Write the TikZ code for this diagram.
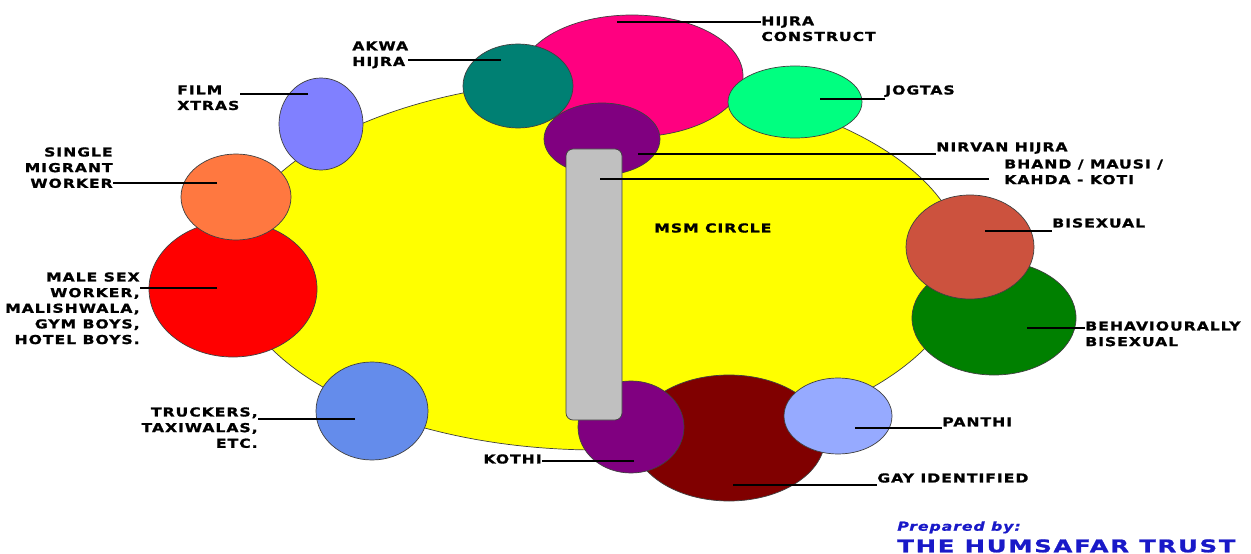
\documentclass[tikz,border=0pt]{standalone}
\usepackage{fontspec}
\newfontfamily\lblfont[FakeStretch=1.27,LetterSpace=8,FakeBold=1.2]{DejaVu Sans}
\newfontfamily\trustfont[FakeStretch=1.4,LetterSpace=10,FakeBold=1.2]{DejaVu Sans}
\definecolor{msmyellow}{RGB}{255,255,0}
\definecolor{hijrapink}{RGB}{255,0,128}
\definecolor{akwateal}{RGB}{0,128,115}
\definecolor{jogtagreen}{RGB}{0,255,128}
\definecolor{nirvanpurple}{RGB}{128,0,128}
\definecolor{rodgray}{RGB}{192,192,192}
\definecolor{filmblue}{RGB}{128,128,255}
\definecolor{migrantorange}{RGB}{255,120,64}
\definecolor{sexred}{RGB}{255,0,0}
\definecolor{truckblue}{RGB}{100,140,235}
\definecolor{gaymaroon}{RGB}{128,0,0}
\definecolor{panthiblue}{RGB}{150,170,255}
\definecolor{bisexred}{RGB}{204,82,62}
\definecolor{behavgreen}{RGB}{0,128,0}
\definecolor{trustblue}{RGB}{25,25,200}

\begin{document}
\begin{tikzpicture}[x=0.02cm,y=-0.02cm,
  blob/.style={draw=black!75,line width=0.4pt},
  lbl/.style={inner sep=0pt,font=\lblfont\bfseries\fontsize{7pt}{8.9pt}\selectfont},
  leader/.style={line width=0.9pt}]
\useasboundingbox (0,0) rectangle (1251,554);

% ============ MSM circle ============
\filldraw[blob,fill=msmyellow] (598,265) ellipse [x radius=366, y radius=185];
\node[lbl,anchor=north west] (msmL) at (654,223) {MSM CIRCLE};

% ============ top: hijra group ============
\filldraw[blob,fill=hijrapink] (632,76) ellipse [x radius=111, y radius=61];
\filldraw[blob,fill=akwateal] (518,86) ellipse [x radius=55, y radius=42];
\filldraw[blob,fill=jogtagreen] (795,102) ellipse [x radius=67, y radius=36];
\filldraw[blob,fill=nirvanpurple] (602,139) ellipse [x radius=58, y radius=36];

% ============ left side ============
\filldraw[blob,fill=filmblue] (321,124) ellipse [x radius=42, y radius=46];
\filldraw[blob,fill=sexred] (233,289) ellipse [x radius=84, y radius=68];
\filldraw[blob,fill=migrantorange] (236,197) ellipse [x radius=55, y radius=43];
\filldraw[blob,fill=truckblue] (372,411) ellipse [x radius=56, y radius=49];

% ============ right side ============
\filldraw[blob,fill=behavgreen] (994,318) ellipse [x radius=82, y radius=57];
\filldraw[blob,fill=bisexred] (970,247) ellipse [x radius=64, y radius=52];

% ============ bottom ============
\filldraw[blob,fill=gaymaroon] (729,438) ellipse [x radius=96, y radius=63];
\filldraw[blob,fill=nirvanpurple] (631,427) ellipse [x radius=53, y radius=46];
\filldraw[blob,fill=panthiblue] (838,416) ellipse [x radius=54, y radius=38];

% ============ bhand / mausi rod ============
\filldraw[blob,fill=rodgray,rounded corners=4pt] (566,149) rectangle (622,420);

% ============ labels ============
\node[lbl,anchor=north west,align=left] (hijraL) at (761,16) {HIJRA\\CONSTRUCT};
\node[lbl,anchor=north west,align=left] (akwaL) at (352,41) {AKWA\\HIJRA};
\node[lbl,anchor=north west,align=left] (filmL) at (177,85) {FILM\\XTRAS};
\node[lbl,anchor=north east,align=right] (singleL) at (113,147) {SINGLE\\MIGRANT\\WORKER};
\node[lbl,anchor=north east,align=right] (maleL) at (140,272) {MALE SEX\\WORKER,\\MALISHWALA,\\GYM BOYS,\\HOTEL BOYS.};
\node[lbl,anchor=north east,align=right] (truckL) at (258,407) {TRUCKERS,\\TAXIWALAS,\\ETC.};
\node[lbl,anchor=north west] (jogL) at (885,85) {JOGTAS};
\node[lbl,anchor=north west] (nirvanL) at (936,142) {NIRVAN HIJRA};
\node[lbl,anchor=north west,align=left] (bhandL) at (1004,159) {BHAND / MAUSI /\\KAHDA - KOTI};
\node[lbl,anchor=north west] (bisexL) at (1052,218) {BISEXUAL};
\node[lbl,anchor=north west,align=left] (behavL) at (1085,321) {BEHAVIOURALLY\\BISEXUAL};
\node[lbl,anchor=north west] (panthiL) at (942,417) {PANTHI};
\node[lbl,anchor=north east] (kothiL) at (542,454) {KOTHI};
\node[lbl,anchor=north west] (gayL) at (877,473) {GAY IDENTIFIED};

\node[inner sep=0pt,anchor=north west,text=trustblue,font=\lblfont\bfseries\itshape\fontsize{7pt}{9pt}\selectfont] (prepL) at (897,521) {Prepared by:};
\node[inner sep=0pt,anchor=north west,text=trustblue,font=\trustfont\bfseries\fontsize{9.9pt}{12pt}\selectfont] (trustL) at (897,539) {THE HUMSAFAR TRUST};

% ============ leaders ============
\coordinate (hijraP) at (617,22);
\coordinate (akwaP) at (501,60);
\coordinate (filmP) at (308,94);
\coordinate (singleP) at (217,183);
\coordinate (maleP) at (217,288);
\coordinate (truckP) at (355,419);
\coordinate (jogP) at (820,99);
\coordinate (nirvanP) at (638,154);
\coordinate (bhandP) at (600,179);
\coordinate (bisexP) at (985,231);
\coordinate (behavP) at (1027,328);
\coordinate (panthiP) at (855,428);
\coordinate (kothiP) at (634,461);
\coordinate (gayP) at (733,485);

\draw[leader] (hijraP) -- (hijraP -| hijraL.west);
\draw[leader] (akwaP) -- (akwaP -| akwaL.east);
\draw[leader] (filmP) -- (filmP -| filmL.east);
\draw[leader] (singleP) -- (singleP -| singleL.east);
\draw[leader] (maleP) -- (maleP -| maleL.east);
\draw[leader] (truckP) -- (truckP -| truckL.east);
\draw[leader] (jogP) -- (jogP -| jogL.west);
\draw[leader] (nirvanP) -- (nirvanP -| nirvanL.west);
\draw[leader,shorten >=8.5pt] (bhandP) -- (bhandP -| bhandL.west);
\draw[leader] (bisexP) -- (bisexP -| bisexL.west);
\draw[leader] (behavP) -- (behavP -| behavL.west);
\draw[leader] (panthiP) -- (panthiP -| panthiL.west);
\draw[leader] (kothiP) -- (kothiP -| kothiL.east);
\draw[leader] (gayP) -- (gayP -| gayL.west);

\end{tikzpicture}
\end{document}
